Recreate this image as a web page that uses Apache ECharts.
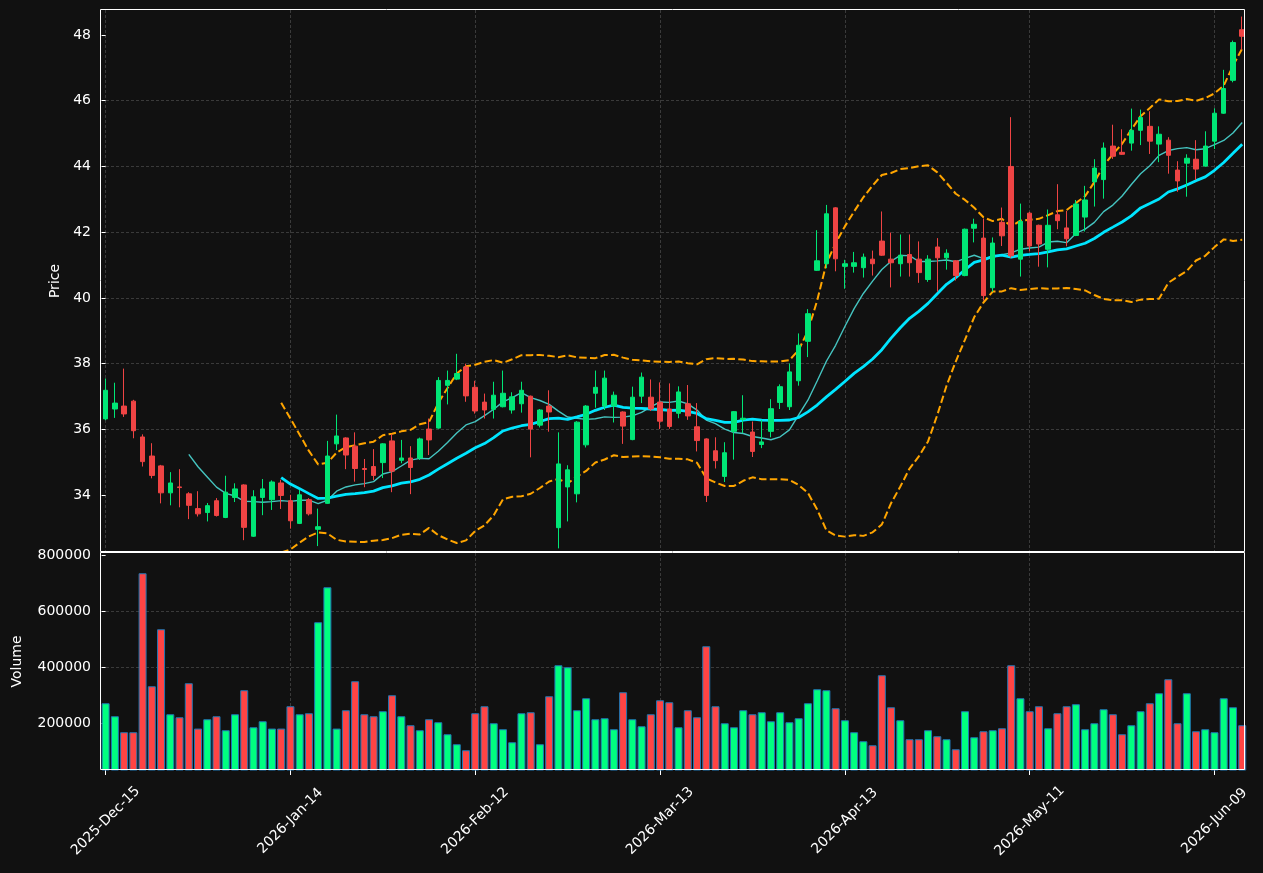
<!DOCTYPE html>
<html><head><meta charset="utf-8">
<script src="https://cdn.jsdelivr.net/npm/echarts@6/dist/echarts.min.js"></script>
<style>html,body{margin:0;padding:0;background:#111111;} #chart{width:1263px;height:873px;}</style>
</head><body><div id="chart"></div>
<script>
// ---- data ----
const opens = [36.32,36.62,36.71,36.86,35.77,35.19,34.89,34.07,34.25,34.04,33.59,33.47,33.83,33.32,33.93,34.31,32.75,33.93,33.86,34.37,
33.83,33.14,33.86,32.96,33.75,35.56,35.74,35.49,34.81,34.87,34.99,35.65,35.06,35.13,35.13,36.01,36.04,37.34,37.53,37.90,
37.28,36.83,36.61,36.69,36.59,36.78,37.01,36.13,36.71,33.01,34.25,34.04,35.53,37.10,36.71,36.71,36.53,35.69,37.01,36.98,
36.83,36.62,36.49,36.78,36.08,35.71,35.35,34.57,35.94,36.30,35.92,35.54,35.94,36.82,36.69,37.48,38.68,40.84,41.04,42.74,
40.96,40.96,40.92,41.18,41.73,41.18,41.04,41.32,41.18,40.56,41.55,41.22,41.13,40.68,42.12,41.82,40.31,42.30,44.00,41.18,
42.58,42.21,41.48,42.53,42.13,41.90,42.46,43.53,43.60,44.62,44.43,44.71,45.10,45.22,44.68,44.80,43.89,44.10,44.22,44.01,
44.77,45.62,46.62,48.16];
const closes = [37.19,36.80,36.47,35.96,35.02,34.60,34.07,34.37,34.23,33.69,33.43,33.68,33.38,34.09,34.19,33.02,33.95,34.19,34.40,33.99,
33.22,34.01,33.43,33.04,35.19,35.80,35.22,34.81,34.78,34.60,35.56,34.73,35.13,34.84,35.71,35.68,37.49,37.49,37.70,37.02,
36.56,36.59,37.04,37.10,36.99,37.19,36.01,36.59,36.53,34.95,34.77,36.22,36.71,37.28,37.56,37.04,36.10,36.98,37.59,36.62,
36.25,36.09,37.14,36.41,35.66,33.99,35.05,35.29,36.54,36.34,35.33,35.62,36.63,37.30,37.75,38.56,39.52,41.13,42.56,41.19,
41.04,41.07,41.24,41.04,41.30,41.07,41.30,41.07,40.77,41.18,41.22,41.36,40.68,42.09,42.24,40.07,41.67,41.89,41.28,42.33,
41.58,41.64,42.21,42.35,41.80,42.86,42.98,43.95,44.56,44.31,44.37,45.10,45.49,44.77,44.98,44.34,43.56,44.25,43.92,44.62,
45.62,46.37,47.77,47.96];
const lows = [36.28,36.35,36.38,35.73,34.87,34.51,33.75,33.69,33.63,33.27,33.35,33.20,33.35,33.30,33.79,32.63,32.73,33.39,33.55,33.58,
32.98,33.12,33.38,32.45,33.73,35.37,34.79,34.41,34.24,34.46,34.52,34.09,34.97,34.03,35.07,35.22,36.02,36.76,37.50,36.84,
36.48,36.33,36.33,36.67,36.48,36.51,35.15,36.06,35.93,32.38,33.20,33.78,35.45,36.66,36.59,36.21,35.56,35.67,36.80,36.56,
36.01,36.02,36.34,36.29,35.33,33.79,34.81,34.40,35.08,35.89,35.16,35.43,35.76,36.62,36.59,37.33,38.20,40.82,40.91,40.81,
40.28,40.77,40.62,40.68,41.28,40.32,40.65,40.65,40.46,40.49,40.19,40.86,40.53,40.66,41.69,39.92,40.19,41.58,41.22,40.65,
41.42,40.95,40.93,42.09,41.57,41.88,42.02,42.78,43.02,44.23,44.35,44.48,44.65,44.38,44.13,43.78,43.23,43.08,43.59,43.99,
44.53,45.60,46.56,47.55];
const highs = [37.55,37.42,37.85,36.90,35.85,35.58,34.92,34.70,34.79,34.09,34.12,33.76,33.91,34.59,34.36,34.33,34.15,34.49,34.45,34.47,
34.01,34.16,33.91,33.59,35.65,36.45,35.76,35.91,35.10,35.40,35.58,35.86,35.68,35.49,35.75,36.33,37.59,37.79,38.30,38.00,
37.48,37.09,37.45,37.79,37.13,37.45,37.03,36.62,37.19,35.91,34.91,36.25,36.74,37.79,37.79,37.15,36.55,37.30,37.73,37.52,
37.43,37.40,37.31,37.35,36.80,35.73,35.76,35.61,36.56,37.04,36.24,36.29,36.92,37.37,38.01,38.92,39.66,42.06,42.83,42.76,
41.16,41.40,41.35,41.44,42.63,41.99,41.93,41.93,41.72,41.30,41.82,41.48,41.15,42.11,42.41,42.41,41.84,42.75,45.50,42.87,
42.62,42.23,42.69,43.46,42.65,42.98,43.41,44.22,44.73,45.27,45.13,45.76,45.73,45.68,45.22,44.89,44.16,44.37,44.80,45.07,
45.77,46.94,47.83,48.56];
const volumes = [271400,225000,167900,167900,735700,332100,535700,232100,221400,342900,181000,214300,225000,175000,232100,317900,185700,207100,181000,181000,
260700,232100,235700,560700,685700,181000,246400,350000,232100,225000,242900,300000,225000,192900,175000,214300,203600,160700,125000,103600,
235700,260700,200000,178600,132100,235700,239300,125000,296400,407100,400000,246400,289300,214300,217900,178600,310700,214300,189300,232100,
282100,275000,185700,246400,221400,475000,260700,200000,185700,246400,232100,239300,207100,239300,203600,217900,271400,321400,317900,253600,
210700,167900,135700,121400,371400,257100,210700,142900,142900,175000,153600,142900,107100,242900,150000,171400,175000,182100,407100,289300,
242900,260700,182100,235700,260700,267900,178600,200000,250000,232100,160700,192900,242900,271400,307100,357100,200000,307100,171400,178600,
167900,289300,257100,192900];
// trading calendar (categories)
const startDate = '2025-12-15';
const holidays = ['2025-12-25','2026-01-01','2026-01-19','2026-02-16','2026-04-03','2026-05-25'];
const xTickIndex = [0,20,40,60,80,100,120];
const xTickLabels = ['2025-Dec-15','2026-Jan-14','2026-Feb-12','2026-Mar-13','2026-Apr-13','2026-May-11','2026-Jun-09'];
const priceTicks = [34,36,38,40,42,44,46,48];
const volumeTicks = [200000,400000,600000,800000];

// ---- build categories ----
const MON = ['Jan','Feb','Mar','Apr','May','Jun','Jul','Aug','Sep','Oct','Nov','Dec'];
const dates = [];
(function(){
  const d = new Date(startDate + 'T12:00:00Z');
  while (dates.length < closes.length) {
    const iso = d.toISOString().slice(0,10);
    const wd = d.getUTCDay();
    if (wd !== 0 && wd !== 6 && holidays.indexOf(iso) < 0) {
      dates.push(d.getUTCFullYear() + '-' + MON[d.getUTCMonth()] + '-' + String(d.getUTCDate()).padStart(2,'0'));
    }
    d.setUTCDate(d.getUTCDate() + 1);
  }
})();

// ---- indicators derived from closes ----
function sma(arr, n){ const out=[]; for(let i=n-1;i<arr.length;i++){let s=0;for(let k=i-n+1;k<=i;k++)s+=arr[k];out.push([i,s/n]);} return out; }
function boll(arr, n, m){ const up=[],lo=[]; for(let i=n-1;i<arr.length;i++){let s=0;for(let k=i-n+1;k<=i;k++)s+=arr[k];const mu=s/n;let v=0;for(let k=i-n+1;k<=i;k++)v+=(arr[k]-mu)*(arr[k]-mu);const sd=Math.sqrt(v/n);up.push([i,mu+m*sd]);lo.push([i,mu-m*sd]);} return [up,lo]; }
const ma10 = sma(closes,10), ma20 = sma(closes,20);
const bb = boll(closes,20,2);

const UP='#00e676', DOWN='#ef4444', VUP='#00ff80', VDOWN='#ff4444';
const FONT='DejaVu Sans';
const FRAME='#ffffff';
const gridLine = {show:true, showMinLine:false, showMaxLine:false, lineStyle:{color:'#3a3a3a', type:[3,2], width:1}};
const candleData = opens.map((o,i)=>[i,o,closes[i],lows[i],highs[i]]);
const volData = volumes.map((v,i)=>({value:[i,v], itemStyle:{color: closes[i]>=opens[i]?VUP:VDOWN}}));

const chart = echarts.init(document.getElementById('chart'), null, {renderer:'canvas'});
chart.setOption({
  animation:false,
  backgroundColor:'#111111',
  grid:[
    {left:101, top:10, width:1144, height:542, show:true, borderColor:FRAME, borderWidth:0, backgroundColor:'#111111'},
    {left:101, top:553, width:1144, height:217, show:true, borderColor:FRAME, borderWidth:0, backgroundColor:'#111111'}
  ],
  graphic:[
    {type:'rect', z:100, silent:true, shape:{x:100.5, y:9.5, width:1144, height:542}, style:{fill:null, stroke:FRAME, lineWidth:1}},
    {type:'rect', z:100, silent:true, shape:{x:100.5, y:552.5, width:1144, height:217}, style:{fill:null, stroke:FRAME, lineWidth:1}}
  ],
  xAxis:[
    {type:'value', gridIndex:0, min:-0.5, max:123.3, minInterval:20, maxInterval:20,
     axisLine:{show:false}, axisTick:{show:false}, axisLabel:{show:false}, splitLine:gridLine},
    {type:'value', gridIndex:1, min:-0.5, max:123.3, minInterval:20, maxInterval:20,
     axisLine:{show:false},
     axisTick:{show:true, customValues:xTickIndex, length:5, lineStyle:{color:FRAME}},
     axisLabel:{show:true, customValues:xTickIndex, rotate:45, align:'center', verticalAlign:'middle', margin:51,
       color:'#ffffff', fontSize:14, fontFamily:FONT,
       formatter:(v)=>{const r=Math.round(v); const k=xTickIndex.indexOf(r); return (k>=0 && Math.abs(v-r)<1e-6)? (dates[r]||xTickLabels[k]) : '';}},
     splitLine:gridLine}
  ],
  yAxis:[
    {type:'value', gridIndex:0, min:32.27, max:48.76, minInterval:2, maxInterval:2,
     name:'Price', nameLocation:'middle', nameGap:37, nameRotate:90,
     nameTextStyle:{color:'#ffffff', fontSize:14, fontFamily:FONT},
     axisLine:{show:false},
     axisTick:{show:true, customValues:priceTicks, length:4, lineStyle:{color:FRAME}},
     axisLabel:{customValues:priceTicks, color:'#ffffff', fontSize:14, fontFamily:FONT, margin:10,
       formatter:(v)=> priceTicks.indexOf(v)>=0 ? String(v) : ''},
     splitLine:gridLine},
    {type:'value', gridIndex:1, min:33000, max:808000, minInterval:200000, maxInterval:200000,
     name:'Volume', nameLocation:'middle', nameGap:77, nameRotate:90,
     nameTextStyle:{color:'#ffffff', fontSize:14, fontFamily:FONT},
     axisLine:{show:false},
     axisTick:{show:true, customValues:volumeTicks, length:4, lineStyle:{color:FRAME}},
     axisLabel:{customValues:volumeTicks, color:'#ffffff', fontSize:14, fontFamily:FONT, margin:10,
       formatter:(v)=> volumeTicks.indexOf(v)>=0 ? String(v) : ''},
     splitLine:gridLine}
  ],
  series:[
    {type:'line', name:'BB upper', xAxisIndex:0, yAxisIndex:0, data:bb[0], showSymbol:false, z:2,
     lineStyle:{color:'#ffa500', width:2, type:[7.5,3.3]}},
    {type:'line', name:'BB lower', xAxisIndex:0, yAxisIndex:0, data:bb[1], showSymbol:false, z:2,
     lineStyle:{color:'#ffa500', width:2, type:[7.5,3.3]}},
    {type:'line', name:'MA10', xAxisIndex:0, yAxisIndex:0, data:ma10, showSymbol:false, z:2,
     lineStyle:{color:'#45c4c0', width:1.4}},
    {type:'line', name:'MA20', xAxisIndex:0, yAxisIndex:0, data:ma20, showSymbol:false, z:2,
     lineStyle:{color:'#00e5ff', width:2.8}},
    {type:'candlestick', name:'Price', xAxisIndex:0, yAxisIndex:0, data:candleData, barWidth:5, z:3,
     itemStyle:{color:UP, color0:DOWN, borderColor:UP, borderColor0:DOWN, borderWidth:1}},
    {type:'bar', name:'Volume', xAxisIndex:1, yAxisIndex:1, data:volData, barWidth:8,
     itemStyle:{borderColor:'#1f77b4', borderWidth:1}}
  ]
});
</script>
</body></html>
